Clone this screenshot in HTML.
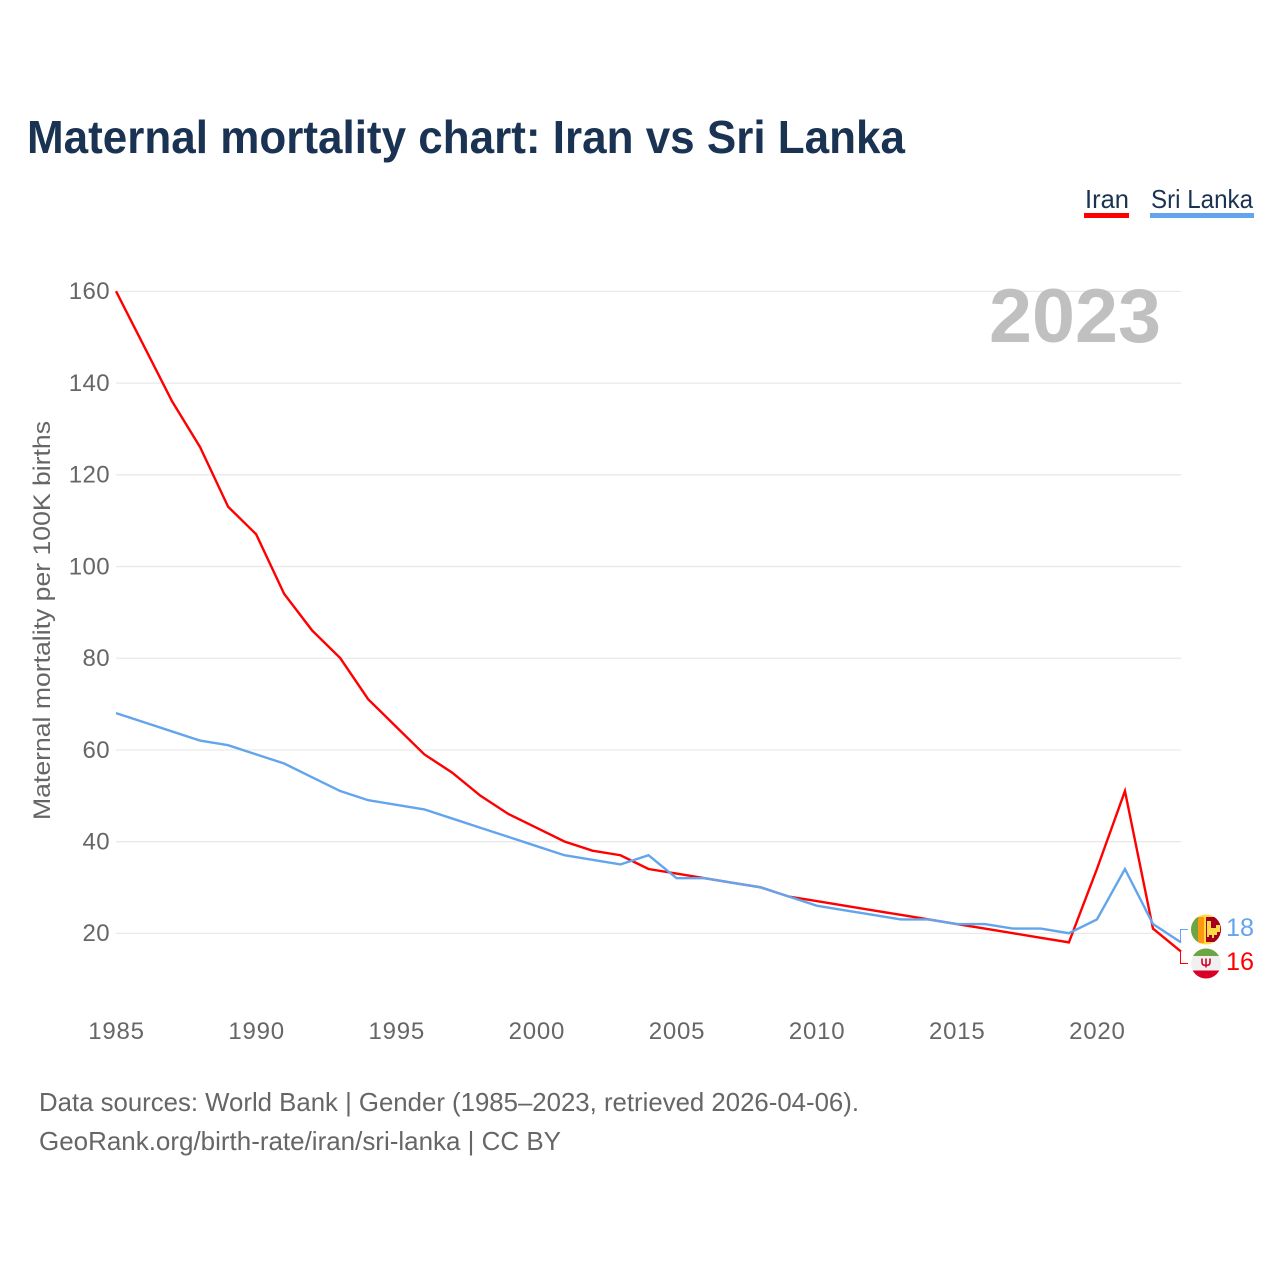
<!DOCTYPE html>
<html lang="en">
<head>
<meta charset="utf-8">
<title>Maternal mortality chart: Iran vs Sri Lanka</title>
<style>
html,body{margin:0;padding:0;background:#fff;width:1280px;height:1280px;overflow:hidden}
svg{display:block;font-family:"Liberation Sans",sans-serif}
</style>
</head>
<body>
<svg id="chart" width="1280" height="1280" viewBox="0 0 1280 1280" xmlns="http://www.w3.org/2000/svg">
  <defs>
    <clipPath id="clip-sri"><circle cx="1206" cy="929.5" r="15"/></clipPath>
    <clipPath id="clip-iran"><circle cx="1206" cy="963.5" r="15"/></clipPath>
  </defs>
  <rect width="1280" height="1280" fill="#fff"/>
  <text x="27" y="153" font-size="46" font-weight="700" fill="#1a3353" textLength="878" lengthAdjust="spacingAndGlyphs">Maternal mortality chart: Iran vs Sri Lanka</text>

  <g>
    <text x="1085" y="208" font-size="26" fill="#1a3353" textLength="44" lengthAdjust="spacingAndGlyphs">Iran</text>
    <rect x="1084" y="213" width="45" height="5" fill="#ff0000"/>
  </g>
  <g>
    <text x="1151" y="208" font-size="26" fill="#1a3353" textLength="102" lengthAdjust="spacingAndGlyphs">Sri Lanka</text>
    <rect x="1150" y="213" width="104" height="5" fill="#63a5ec"/>
  </g>

  <g id="grid"></g>
  <g id="yticks"></g>
  <g id="xticks"></g>

  <text x="989" y="342" font-size="76" font-weight="700" fill="#c0c0c0" textLength="172" lengthAdjust="spacingAndGlyphs">2023</text>
  <text transform="translate(50,820) rotate(-90)" x="0" y="0" font-size="24" fill="#666" textLength="399" lengthAdjust="spacingAndGlyphs">Maternal mortality per 100K births</text>

  <g id="series"></g>
  <g id="leaders"></g>

  <g clip-path="url(#clip-sri)">
    <rect x="1191" y="914.5" width="30" height="30" fill="#ffda44"/>
    <rect x="1191" y="917" width="7" height="26" fill="#6da544"/>
    <rect x="1198" y="917" width="6" height="26" fill="#ff9811"/>
    <rect x="1206" y="917" width="15" height="25" fill="#a2001d"/>
    <path d="M1207 921h4v7h5v-3h4v7h-3v3h-3v3h-2v-3h-3v2h-2z" fill="#ffda44"/>
  </g>
  <g clip-path="url(#clip-iran)">
    <rect x="1191" y="948.5" width="30" height="30" fill="#f0f0f0"/>
    <rect x="1191" y="948.5" width="30" height="7.5" fill="#6da544"/>
    <rect x="1191" y="970.5" width="30" height="8" fill="#d80027"/>
    <path d="M1202 958.5v4q0 3 4 3t4-3v-4M1206 958.5v9" fill="none" stroke="#d80027" stroke-width="1.6"/>
  </g>
  <text x="1226" y="936" font-size="25" fill="#63a5ec" textLength="28" lengthAdjust="spacingAndGlyphs">18</text>
  <text x="1226" y="970" font-size="25" fill="#ff0000" textLength="28" lengthAdjust="spacingAndGlyphs">16</text>

  <text x="39" y="1111" font-size="26" fill="#666" textLength="820" lengthAdjust="spacingAndGlyphs">Data sources: World Bank | Gender (1985–2023, retrieved 2026-04-06).</text>
  <text x="39" y="1150" font-size="26" fill="#666" textLength="522" lengthAdjust="spacingAndGlyphs">GeoRank.org/birth-rate/iran/sri-lanka | CC BY</text>
</svg>
<script>
const years = [1985,1986,1987,1988,1989,1990,1991,1992,1993,1994,1995,1996,1997,1998,1999,2000,2001,2002,2003,2004,2005,2006,2007,2008,2009,2010,2011,2012,2013,2014,2015,2016,2017,2018,2019,2020,2021,2022,2023];
const iranValues = [160,148,136,126,113,107,94,86,80,71,65,59,55,50,46,43,40,38,37,34,33,32,31,30,28,27,26,25,24,23,22,21,20,19,18,34,51,21,16];
const sriLankaValues = [68,66,64,62,61,59,57,54,51,49,48,47,45,43,41,39,37,36,35,37,32,32,31,30,28,26,25,24,23,23,22,22,21,21,20,23,34,22,18];
const yTickValues = [160,140,120,100,80,60,40,20];
const xTickValues = [1985,1990,1995,2000,2005,2010,2015,2020];

const NS = 'http://www.w3.org/2000/svg';
const xScale = function (year) { return 116 + (year - 1985) * (1181 - 116) / 38; };
const yScale = function (value) { return 933.2 - (value - 20) * (933.2 - 291.2) / 140; };
const make = function (tag, parentId) {
  const el = document.createElementNS(NS, tag);
  document.getElementById(parentId).appendChild(el);
  return el;
};

yTickValues.forEach(function (v) {
  const line = make('line', 'grid');
  
  
  line.setAttribute('x1', xScale(1985));
  line.setAttribute('x2', xScale(2023));
  line.setAttribute('y1', yScale(v) + 0.2);
  line.setAttribute('y2', yScale(v) + 0.2);
  line.setAttribute('stroke', '#e9e9e9');
  line.setAttribute('stroke-width', '1.3');

  const label = make('text', 'yticks');
  
  
  label.setAttribute('x', 110);
  label.setAttribute('y', yScale(v) + 8);
  label.setAttribute('text-anchor', 'end');
  label.setAttribute('font-size', '24');
  label.setAttribute('letter-spacing', '0.4');
  label.setAttribute('fill', '#666');
  label.textContent = v;
});

xTickValues.forEach(function (year) {
  const label = make('text', 'xticks');
  
  
  label.setAttribute('x', xScale(year) + 0.5);
  label.setAttribute('y', 1039);
  label.setAttribute('text-anchor', 'middle');
  label.setAttribute('font-size', '24');
  label.setAttribute('letter-spacing', '0.8');
  label.setAttribute('fill', '#666');
  label.textContent = year;
});

const linePoints = function (values) {
  return values.map(function (v, i) { return xScale(years[i]).toFixed(2) + ',' + yScale(v).toFixed(2); }).join(' ');
};

const iranLine = make('polyline', 'series');


iranLine.setAttribute('points', linePoints(iranValues));
iranLine.setAttribute('fill', 'none');
iranLine.setAttribute('stroke', '#ff0000');
iranLine.setAttribute('stroke-width', '2.4');

const sriLankaLine = make('polyline', 'series');


sriLankaLine.setAttribute('points', linePoints(sriLankaValues));
sriLankaLine.setAttribute('fill', 'none');
sriLankaLine.setAttribute('stroke', '#63a5ec');
sriLankaLine.setAttribute('stroke-width', '2.4');

const endX = xScale(2023) - 0.5;
const iranLeader = make('polyline', 'leaders');


iranLeader.setAttribute('points', endX + ',' + yScale(iranValues[38]) + ' ' + endX + ',963.5 1188,963.5');
iranLeader.setAttribute('fill', 'none');
iranLeader.setAttribute('stroke', '#ff0000');
iranLeader.setAttribute('stroke-width', '1');

const sriLankaLeader = make('polyline', 'leaders');


sriLankaLeader.setAttribute('points', endX + ',' + yScale(sriLankaValues[38]) + ' ' + endX + ',929.5 1188,929.5');
sriLankaLeader.setAttribute('fill', 'none');
sriLankaLeader.setAttribute('stroke', '#63a5ec');
sriLankaLeader.setAttribute('stroke-width', '1');
</script>
</body>
</html>
